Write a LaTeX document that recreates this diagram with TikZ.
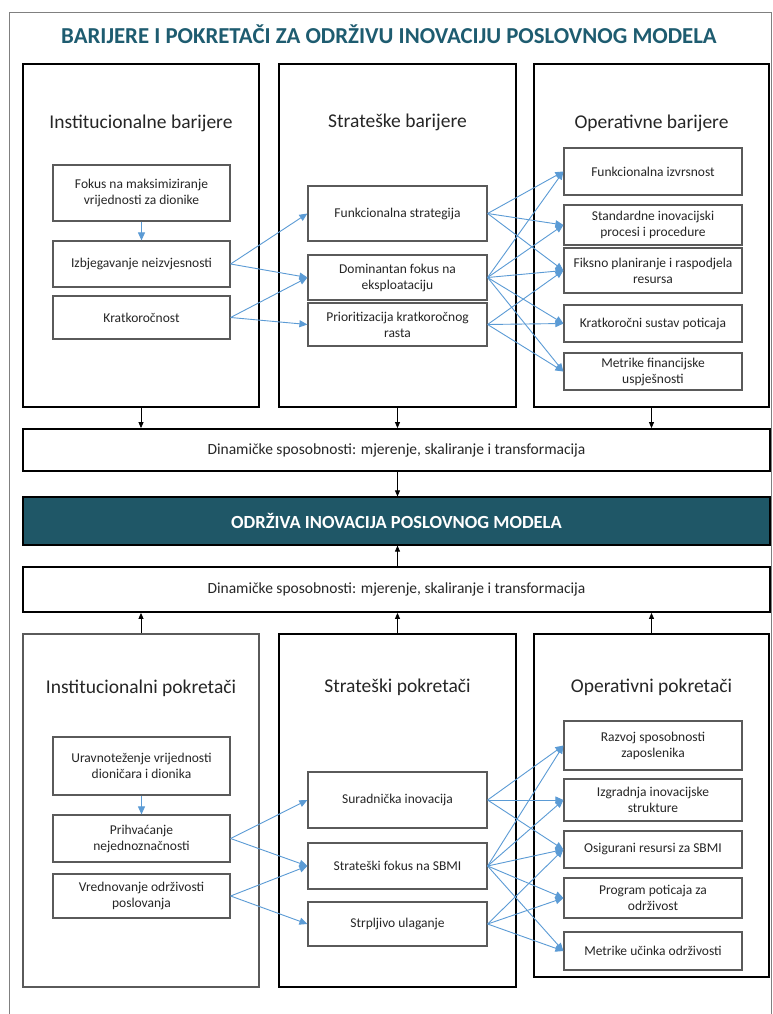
\documentclass[tikz,border=0pt]{standalone}
\usepackage{fontspec}
\setmainfont{Carlito}
\usetikzlibrary{arrows.meta}
\definecolor{headteal}{HTML}{1E5C70}
\definecolor{darkteal}{HTML}{1F5767}
\definecolor{linkblue}{HTML}{5B9BD5}
\definecolor{boxgray}{HTML}{5A5A5A}
\definecolor{txtgray}{HTML}{262626}
\tikzset{
  colbox/.style={draw=black, line width=1.8pt, inner sep=0pt},
  colboxlight/.style={draw=boxgray, line width=1.1pt, inner sep=0pt},
  coltitle/.style={font=\fontsize{19.5}{22}\selectfont, text=txtgray},
  itembox/.style={draw=boxgray, line width=1.2pt, inner sep=0pt, align=center,
    font=\fontsize{13.5}{16}\selectfont, text=txtgray},
  dynbox/.style={draw=black, line width=1.8pt, inner sep=0pt,
    minimum width=747pt, font=\fontsize{15.5}{18}\selectfont, text=txtgray},
  link/.style={draw=linkblue, line width=0.9pt, -{Triangle[length=8pt,width=7pt]}},
  flow/.style={draw=black, line width=0.8pt, -{Triangle[length=6pt,width=5pt]}}
}
\begin{document}
\begin{tikzpicture}[x=1pt,y=-1pt]
\useasboundingbox (0,0) rectangle (772,1014);
\fill[white] (0,0) rectangle (772,1014);
% outer frame
\draw[gray, line width=0.8pt] (9,1014) -- (9,12) -- (771,12) -- (771,1014);

% heading
\node[font=\fontsize{22.8}{26}\selectfont\bfseries, text=headteal] (head) at (389,34)
  {BARIJERE I POKRETAČI ZA ODRŽIVU INOVACIJU POSLOVNOG MODELA};

% ---------- barriers ----------
\node[colbox, minimum width=236pt, minimum height=343pt] (cbA) at (141,235.5) {};
\node[colbox, minimum width=237pt, minimum height=343pt] (cbB) at (397.5,235.5) {};
\node[colbox, minimum width=235pt, minimum height=343pt] (cbC) at (651.5,235.5) {};
\node[coltitle] (tA) at (141,123) {Institucionalne barijere};
\node[coltitle] (tB) at (397.5,122) {Strateške barijere};
\node[coltitle] (tC) at (651.5,123) {Operativne barijere};

\node[itembox, minimum width=177pt, minimum height=56pt] (a1) at (141.5,193) {Fokus na maksimiziranje\\vrijednosti za dionike};
\node[itembox, minimum width=177pt, minimum height=46pt] (a2) at (141.5,264) {Izbjegavanje neizvjesnosti};
\node[itembox, minimum width=177pt, minimum height=43pt] (a3) at (141.5,317.5) {Kratkoročnost};

\node[itembox, minimum width=179pt, minimum height=55pt] (b1) at (397.5,213.5) {Funkcionalna strategija};
\node[itembox, minimum width=179pt, minimum height=45pt] (b2) at (397.5,277.5) {Dominantan fokus na\\eksploataciju};
\node[itembox, minimum width=179pt, minimum height=43pt] (b3) at (397.5,324.5) {Prioritizacija kratkoročnog\\rasta};

\node[itembox, minimum width=178pt, minimum height=47pt] (c1) at (653,171.5) {Funkcionalna izvrsnost};
\node[itembox, minimum width=178pt, minimum height=40pt] (c2) at (653,225) {Standardne inovacijski\\procesi i procedure};
\node[itembox, minimum width=178pt, minimum height=45pt] (c3) at (653,270.5) {Fiksno planiranje i raspodjela\\resursa};
\node[itembox, minimum width=178pt, minimum height=37pt] (c4) at (653,323.5) {Kratkoročni sustav poticaja};
\node[itembox, minimum width=178pt, minimum height=37pt] (c5) at (653,371.5) {Metrike financijske\\uspješnosti};

\draw[link] (a1) -- (a2);
\draw[link] (a2.east) -- (b1.west);
\draw[link] (a2.east) -- (b2.west);
\draw[link] (a3.east) -- (b2.west);
\draw[link] (a3.east) -- (b3.west);
\foreach \t in {c1,c2,c3} \draw[link] (b1.east) -- (\t.west);
\foreach \t in {c1,c2,c3,c4,c5} \draw[link] (b2.east) -- (\t.west);
\foreach \t in {c3,c4,c5} \draw[link] (b3.east) -- (\t.west);

% ---------- centre band ----------
\node[dynbox, minimum height=42pt] (dyn1) at (396.5,450) {Dinamičke sposobnosti: mjerenje, skaliranje i transformacija};
\node[draw=black, line width=1.2pt, fill=darkteal, inner sep=0pt, minimum width=747pt, minimum height=48pt,
  font=\fontsize{18.5}{22}\selectfont\bfseries, text=white] (core) at (396.5,521) {ODRŽIVA INOVACIJA POSLOVNOG MODELA};
\node[dynbox, minimum height=45pt] (dyn2) at (396.5,589.5) {Dinamičke sposobnosti: mjerenje, skaliranje i transformacija};

\draw[flow] (cbA.south) -- (cbA.south |- dyn1.north);
\draw[flow] (cbB.south) -- (cbB.south |- dyn1.north);
\draw[flow] (cbC.south) -- (cbC.south |- dyn1.north);
\draw[flow] (dyn1.south -| cbB.south) -- (core.north -| cbB.south);
\draw[flow] (dyn2.north -| cbB.south) -- (core.south -| cbB.south);

% ---------- drivers ----------
\node[colboxlight, minimum width=236pt, minimum height=353pt] (dbA) at (141,810.5) {};
\node[colbox, minimum width=237pt, minimum height=353pt] (dbB) at (397.5,810.5) {};
\node[colbox, minimum width=235pt, minimum height=343pt] (dbC) at (651.5,805.5) {};
\node[coltitle] (uA) at (141,688) {Institucionalni pokretači};
\node[coltitle] (uB) at (397.5,687) {Strateški pokretači};
\node[coltitle] (uC) at (651.5,687) {Operativni pokretači};

\draw[flow] (dbA.north) -- (dbA.north |- dyn2.south);
\draw[flow] (dbB.north) -- (dbB.north |- dyn2.south);
\draw[flow] (dbC.north) -- (dbC.north |- dyn2.south);

\node[itembox, minimum width=177pt, minimum height=58pt] (d1) at (141.5,766) {Uravnoteženje vrijednosti\\dioničara i dionika};
\node[itembox, minimum width=177pt, minimum height=47pt] (d2) at (141.5,838.5) {Prihvaćanje\\nejednoznačnosti};
\node[itembox, minimum width=177pt, minimum height=44pt] (d3) at (141.5,896) {Vrednovanje održivosti\\poslovanja};

\node[itembox, minimum width=179pt, minimum height=56pt] (e1) at (397.5,800) {Suradnička inovacija};
\node[itembox, minimum width=179pt, minimum height=46pt] (e2) at (397.5,866) {Strateški fokus na SBMI};
\node[itembox, minimum width=179pt, minimum height=44pt] (e3) at (397.5,924) {Strpljivo ulaganje};

\node[itembox, minimum width=178pt, minimum height=49pt] (f1) at (653,745.5) {Razvoj sposobnosti\\zaposlenika};
\node[itembox, minimum width=178pt, minimum height=42pt] (f2) at (653,800) {Izgradnja inovacijske\\strukture};
\node[itembox, minimum width=178pt, minimum height=37pt] (f3) at (653,849.5) {Osigurani resursi za SBMI};
\node[itembox, minimum width=178pt, minimum height=40pt] (f4) at (653,898) {Program poticaja za\\održivost};
\node[itembox, minimum width=178pt, minimum height=38pt] (f5) at (653,951) {Metrike učinka održivosti};

\draw[link] (d1) -- (d2);
\draw[link] (d2.east) -- (e1.west);
\draw[link] (d2.east) -- (e2.west);
\draw[link] (d3.east) -- (e2.west);
\draw[link] (d3.east) -- (e3.west);
\foreach \t in {f1,f2,f3} \draw[link] (e1.east) -- (\t.west);
\foreach \t in {f1,f2,f3,f4,f5} \draw[link] (e2.east) -- (\t.west);
\foreach \t in {f3,f4,f5} \draw[link] (e3.east) -- (\t.west);
\end{tikzpicture}
\end{document}
